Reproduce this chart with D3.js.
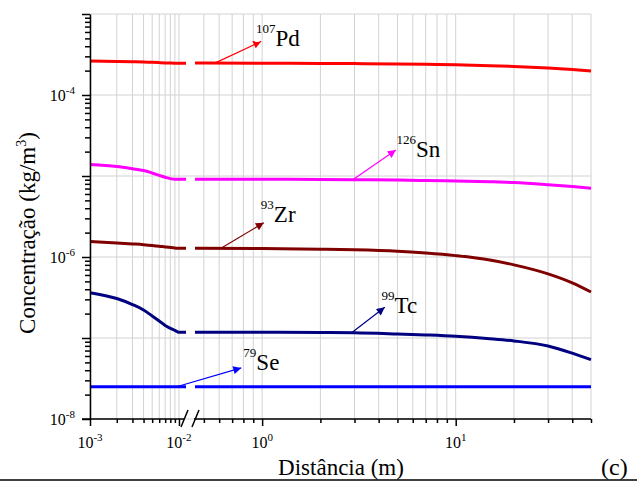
<!DOCTYPE html>
<html>
<head>
<meta charset="utf-8">
<script src="https://cdn.jsdelivr.net/npm/d3@7"></script>
<style>
  html, body { margin: 0; padding: 0; background: #fff; }
  svg { display: block; font-family: "Liberation Serif", "Times New Roman", serif; }
  text, tspan { font-family: "Liberation Serif", "Times New Roman", serif; fill: #000; }
</style>
</head>
<body>
<svg id="chart" width="637" height="482"></svg>
<script>
// Distance samples (m) on each side of the axis break
const leftX  = [0.001, 0.002, 0.003, 0.004, 0.005, 0.006, 0.007, 0.009, 0.01, 0.012];
const rightX = [0.45, 1, 2, 3, 5, 7, 10, 15, 20, 30, 40, 50];

// Concentrations (kg/m3)
const pdLeft  = [2.63e-4, 2.60e-4, 2.58e-4, 2.56e-4, 2.53e-4, 2.51e-4, 2.49e-4, 2.47e-4, 2.46e-4, 2.46e-4];
const pdRight = [2.48e-4, 2.47e-4, 2.45e-4, 2.44e-4, 2.41e-4, 2.39e-4, 2.36e-4, 2.30e-4, 2.25e-4, 2.15e-4, 2.06e-4, 1.98e-4];
const snLeft  = [1.39e-5, 1.31e-5, 1.23e-5, 1.17e-5, 1.09e-5, 1.02e-5, 9.64e-6, 9.1e-6, 9.1e-6, 9.1e-6];
const snRight = [9.1e-6, 9.1e-6, 9.05e-6, 9.0e-6, 8.9e-6, 8.8e-6, 8.7e-6, 8.5e-6, 8.3e-6, 7.8e-6, 7.4e-6, 7.05e-6];
const zrLeft  = [1.55e-6, 1.49e-6, 1.45e-6, 1.42e-6, 1.39e-6, 1.36e-6, 1.33e-6, 1.29e-6, 1.28e-6, 1.28e-6];
const zrRight = [1.28e-6, 1.27e-6, 1.25e-6, 1.23e-6, 1.18e-6, 1.12e-6, 1.04e-6, 9.2e-7, 8.0e-7, 6.2e-7, 4.8e-7, 3.7e-7];
const tcLeft  = [3.63e-7, 3.07e-7, 2.59e-7, 2.22e-7, 1.87e-7, 1.62e-7, 1.43e-7, 1.24e-7, 1.18e-7, 1.18e-7];
const tcRight = [1.18e-7, 1.18e-7, 1.17e-7, 1.16e-7, 1.12e-7, 1.09e-7, 1.05e-7, 9.8e-8, 9.2e-8, 7.96e-8, 6.5e-8, 5.4e-8];
const seLeft  = [2.5e-8, 2.5e-8, 2.5e-8, 2.5e-8, 2.5e-8, 2.5e-8, 2.5e-8, 2.5e-8, 2.5e-8, 2.5e-8];
const seRight = [2.5e-8, 2.5e-8, 2.5e-8, 2.5e-8, 2.5e-8, 2.5e-8, 2.5e-8, 2.5e-8, 2.5e-8, 2.5e-8, 2.5e-8, 2.5e-8];

const nuclides    = ["Pd", "Sn", "Zr", "Tc", "Se"];
const massNumbers = ["107", "126", "93", "99", "79"];

// Annotation arrows: tail on the curve at tailX, head and label anchor in data units
const arrowTailX  = [0.57, 2.94, 0.61, 2.9, 0.0094];
const arrowHeadX  = [0.99, 4.91, 1.02, 4.3, 0.78];
const arrowHeadY  = [4.6e-4, 2.09e-5, 2.65e-6, 2.39e-7, 4.27e-8];
const labelX      = [0.93, 4.95, 0.985, 4.14, 0.80];
const labelY      = [4.03e-4, 1.73e-5, 2.73e-6, 2.05e-7, 4.03e-8];

// Axis ticks
const yTickValues  = [1e-8, 1e-7, 1e-6, 1e-5, 1e-4, 1e-3];
const yTickLabels  = ["-8", "", "-6", "", "-4", ""];
const xLeftTicks   = [0.001, 0.002, 0.003, 0.004, 0.005, 0.006, 0.007, 0.008, 0.009, 0.01];
const xRightTicks  = [0.5, 0.6, 0.7, 0.8, 0.9, 1, 2, 3, 4, 5, 6, 7, 8, 9, 10, 20, 30, 40, 50];
const xMajorValues = [0.001, 0.01, 1, 10];
const xMajorLabels = ["-3", "-2", "0", "1"];

const colors = ["#ff0000", "#ff00ff", "#800000", "#000080", "#0000ff"];
const SERIF = '"Liberation Serif", "Times New Roman", serif';

const series = nuclides.map((n, i) => ({
  name: n,
  mass: massNumbers[i],
  color: colors[i],
  left: leftX.map((x, j) => [x, [pdLeft, snLeft, zrLeft, tcLeft, seLeft][i][j]]),
  right: rightX.map((x, j) => [x, [pdRight, snRight, zrRight, tcRight, seRight][i][j]])
}));

const svg = d3.select("#chart");

const plotTop = 14, plotBottom = 419, plotLeft = 90, plotRight = 591;

const xL = d3.scaleLog().domain([0.001, 0.012]).range([90, 186]);
const xR = d3.scaleLog().domain([0.45, 50]).range([195, 591]);
const xPos = v => (v < 0.1 ? xL(v) : xR(v));
const y = d3.scaleLog().domain([1e-8, 1e-3]).range([plotBottom, plotTop]);

// Grid
const grid = svg.append("g").attr("stroke", "#d2d2d2").attr("stroke-width", 1);
grid.selectAll("line.v")
  .data(xLeftTicks.map(xL).concat(xRightTicks.map(xR)))
  .join("line")
  .attr("x1", d => d).attr("x2", d => d)
  .attr("y1", plotTop).attr("y2", plotBottom);
grid.selectAll("line.h")
  .data(yTickValues)
  .join("line")
  .attr("x1", plotLeft).attr("x2", plotRight)
  .attr("y1", d => y(d)).attr("y2", d => y(d));

// Curves
const line = d3.line()
  .x(d => xPos(d[0]))
  .y(d => y(d[1]))
  .curve(d3.curveMonotoneX);

const curves = svg.append("g").attr("fill", "none").attr("stroke-width", 3);
series.forEach(s => {
  curves.append("path").attr("d", line(s.left)).attr("stroke", s.color);
  curves.append("path").attr("d", line(s.right)).attr("stroke", s.color);
});

// Y axis
const yAxis = d3.axisLeft(y)
  .tickValues(d3.range(-8, -2).flatMap(e => d3.range(1, 10).map(m => m * Math.pow(10, e))).filter(v => v <= 1.0001e-3))
  .tickFormat("")
  .tickSizeOuter(0);
const yg = svg.append("g").attr("transform", `translate(${plotLeft},0)`).call(yAxis);
yg.select(".domain").attr("stroke", "#000").attr("stroke-width", 1.5);
yg.selectAll(".tick line")
  .attr("stroke", "#000")
  .attr("stroke-width", 1.5)
  .attr("x2", d => (Math.abs(Math.log10(d) - Math.round(Math.log10(d))) < 1e-6 ? -8 : -5));

svg.selectAll(".ylab")
  .data(yTickValues.filter((d, i) => yTickLabels[i] !== ""))
  .join("text")
  .attr("class", "ylab")
  .attr("x", plotLeft - 15)
  .attr("y", d => y(d) + 6)
  .attr("text-anchor", "end")
  .style("font-family", SERIF)
  .style("font-size", "16px")
  .each(function (d) {
    const t = d3.select(this);
    const lab = yTickLabels[yTickValues.indexOf(d)];
    t.append("tspan").text("10");
    t.append("tspan").attr("dy", -7).style("font-size", "11px").text(lab);
  });

// X axis (two segments with a break)
function xSegment(scale, ticks, x0, x1) {
  const ax = d3.axisBottom(scale).tickValues(ticks).tickFormat("").tickSizeOuter(0);
  const g = svg.append("g").attr("transform", `translate(0,${plotBottom})`).call(ax);
  g.select(".domain").remove();
  g.append("line").attr("x1", x0).attr("x2", x1).attr("stroke", "#000").attr("stroke-width", 1.5);
  g.selectAll(".tick line")
    .attr("stroke", "#000")
    .attr("stroke-width", 1.5)
    .attr("y2", d => (xMajorValues.includes(d) ? 7 : 4));
  return g;
}
xSegment(xL, xLeftTicks, plotLeft - 8, 184);
xSegment(xR, xRightTicks, 194, plotRight);

// Break marks
const brk = svg.append("g").attr("stroke", "#000").attr("stroke-width", 1.5);
[[181, 188], [192, 199]].forEach(([a, b]) => {
  brk.append("line").attr("x1", a).attr("y1", plotBottom + 8).attr("x2", b).attr("y2", plotBottom - 9);
});

svg.selectAll(".xlab")
  .data(xMajorValues)
  .join("text")
  .attr("class", "xlab")
  .attr("x", d => xPos(d))
  .attr("y", 448)
  .attr("text-anchor", "middle")
  .style("font-family", SERIF)
  .style("font-size", "16px")
  .each(function (d, i) {
    const t = d3.select(this);
    t.append("tspan").text("10");
    t.append("tspan").attr("dy", -7).style("font-size", "11px").text(xMajorLabels[i]);
  });

// Annotations
const defs = svg.append("defs");
series.forEach((s, i) => {
  defs.append("marker")
    .attr("id", "arrow" + i)
    .attr("viewBox", "0 0 10 10")
    .attr("refX", 10).attr("refY", 5)
    .attr("markerUnits", "userSpaceOnUse")
    .attr("markerWidth", 11).attr("markerHeight", 8)
    .attr("orient", "auto")
    .append("path").attr("d", "M0,0 L10,5 L0,10 Z").attr("fill", s.color);
});

function valueAt(s, xv) {
  const pts = (xv < 0.1 ? s.left : s.right);
  for (let j = 0; j < pts.length - 1; j++) {
    if (xv >= pts[j][0] && xv <= pts[j + 1][0]) {
      const a = xPos(pts[j][0]), b = xPos(pts[j + 1][0]);
      const t = (xPos(xv) - a) / (b - a);
      return y(pts[j][1]) + t * (y(pts[j + 1][1]) - y(pts[j][1]));
    }
  }
  return y(pts[0][1]);
}

const ann = svg.append("g");
series.forEach((s, i) => {
  ann.append("line")
    .attr("x1", xPos(arrowTailX[i]))
    .attr("y1", valueAt(s, arrowTailX[i]))
    .attr("x2", xPos(arrowHeadX[i]))
    .attr("y2", y(arrowHeadY[i]))
    .attr("stroke", s.color)
    .attr("stroke-width", 1.2)
    .attr("marker-end", `url(#arrow${i})`);
  const t = ann.append("text")
    .attr("x", xPos(labelX[i]))
    .attr("y", y(labelY[i]))
    .style("font-family", SERIF)
    .style("font-size", "23px");
  t.append("tspan").attr("dy", -13).style("font-size", "13px").text(s.mass);
  t.append("tspan").attr("dy", 13).text(s.name);
});

// Axis titles
svg.append("text")
  .attr("x", 341)
  .attr("y", 475)
  .attr("text-anchor", "middle")
  .style("font-family", SERIF)
  .style("font-size", "23px")
  .text("Distância (m)");

const yt = svg.append("text")
  .attr("transform", "translate(35,233) rotate(-90)")
  .attr("text-anchor", "middle")
  .style("font-family", SERIF)
  .style("font-size", "23px");
yt.append("tspan").text("Concentração (kg/m");
yt.append("tspan").attr("dy", -9).style("font-size", "14px").text("3");
yt.append("tspan").attr("dy", 9).text(")");

svg.append("text")
  .attr("x", 601)
  .attr("y", 475)
  .style("font-family", SERIF)
  .style("font-size", "24px")
  .text("(c)");

// Bottom rule
svg.append("line")
  .attr("x1", 0).attr("x2", 637)
  .attr("y1", 480).attr("y2", 480)
  .attr("stroke", "#000").attr("stroke-width", 1.5);
</script>
</body>
</html>
